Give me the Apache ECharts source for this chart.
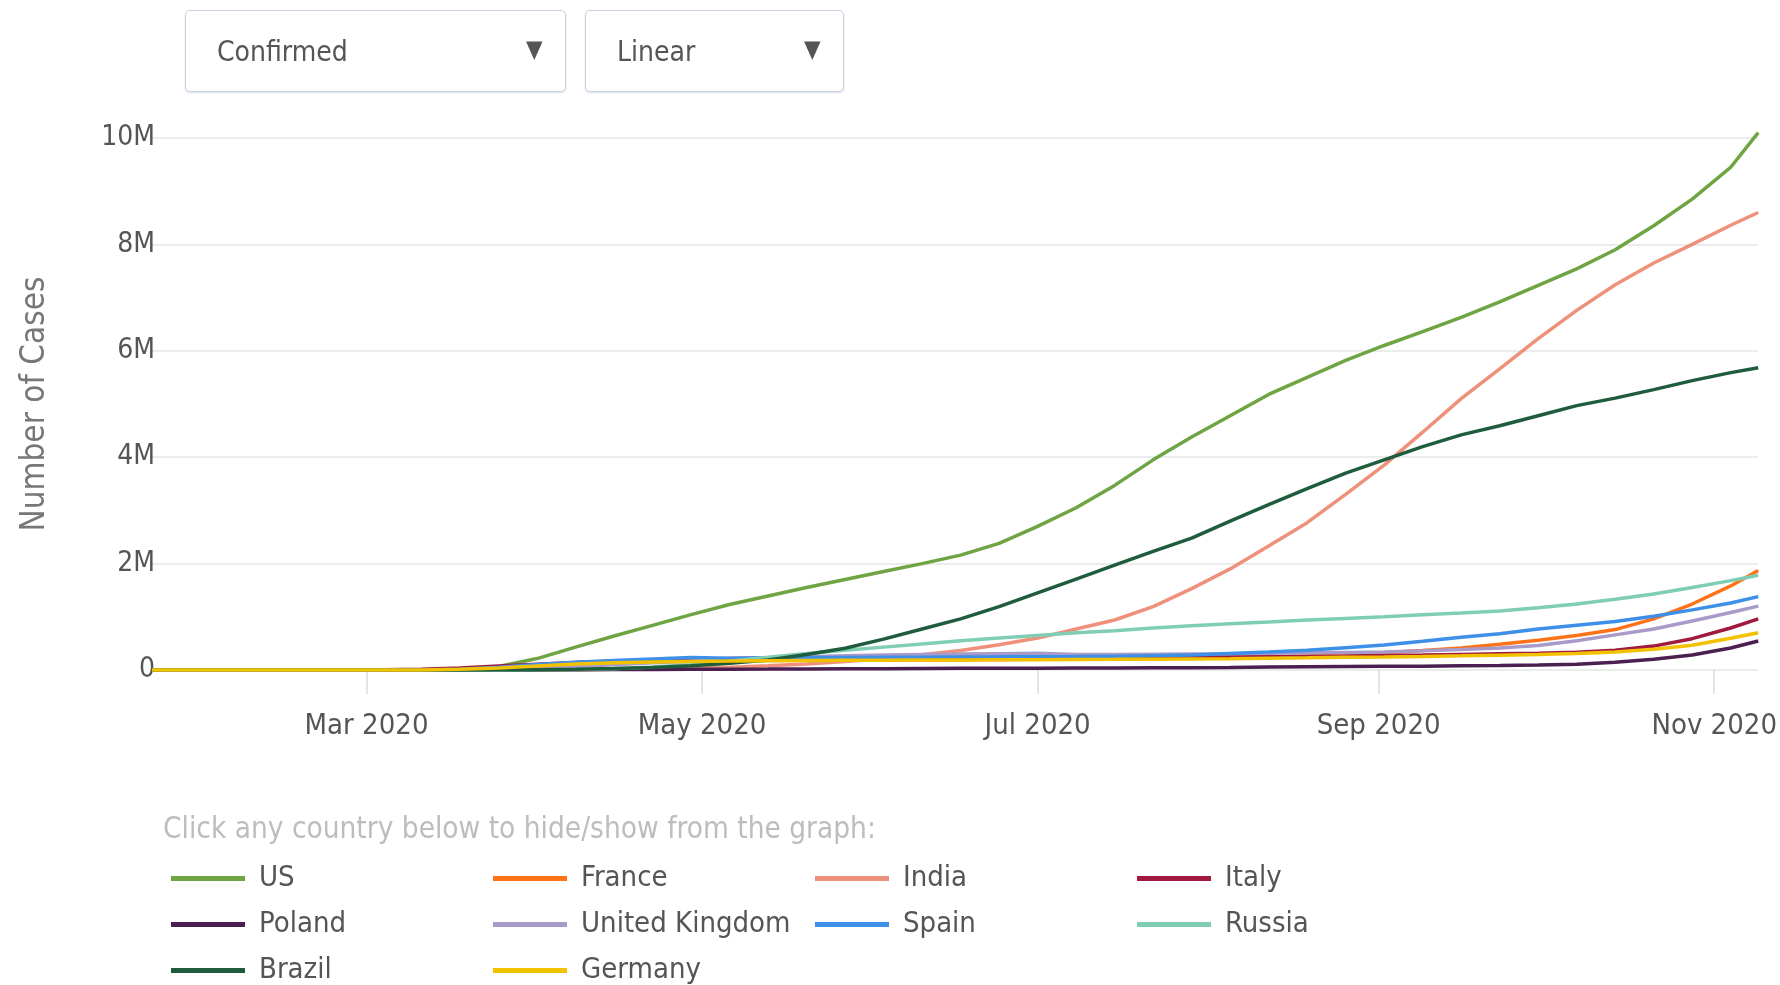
<!DOCTYPE html>
<html>
<head>
<meta charset="utf-8">
<script src="https://cdn.jsdelivr.net/npm/echarts@6/dist/echarts.min.js"></script>
<style>
  html, body { margin: 0; padding: 0; background: #fff; }
  #chart { position: absolute; left: 0; top: 0; width: 1780px; height: 985px; }
  .dd { position: absolute; top: 10px; height: 82px; box-sizing: border-box;
        border: 1.5px solid #c9d1e6; border-radius: 5px; background: #fff;
        box-shadow: 0 1px 2px rgba(150,160,190,0.35);
        font-family: 'DejaVu Sans Condensed','Liberation Sans Narrow','Roboto Condensed',Roboto,sans-serif;
        font-size: 28px; color: #555; }
  .dd .t { position: absolute; top: 50%; transform: translateY(-50%); }
  .dd .a { position: absolute; top: 50%; transform: translateY(-58%); font-size: 24px; color: #555; }
</style>
</head>
<body>
<div id="chart"></div>
<div class="dd" style="left:185px;width:381px;"><span class="t" style="left:31px;">Confirmed</span><span class="a" style="left:340px;">▼</span></div>
<div class="dd" style="left:585px;width:259px;"><span class="t" style="left:31px;">Linear</span><span class="a" style="left:218px;">▼</span></div>
<script>
// ---- data (confirmed cases, millions) ----
const dates = ['2020-01-22','2020-01-29','2020-02-05','2020-02-12','2020-02-19','2020-02-26','2020-03-04','2020-03-11','2020-03-18','2020-03-25','2020-04-01','2020-04-08','2020-04-15','2020-04-22','2020-04-29','2020-05-06','2020-05-13','2020-05-20','2020-05-27','2020-06-03','2020-06-10','2020-06-17','2020-06-24','2020-07-01','2020-07-08','2020-07-15','2020-07-22','2020-07-29','2020-08-05','2020-08-12','2020-08-19','2020-08-26','2020-09-02','2020-09-09','2020-09-16','2020-09-23','2020-09-30','2020-10-07','2020-10-14','2020-10-21','2020-10-28','2020-11-04','2020-11-09'];

const countries = ['US','France','India','Italy','Poland','United Kingdom','Spain','Russia','Brazil','Germany'];

const US      = [0,0,0,0,0,0,0.0002,0.001,0.008,0.065,0.215,0.43,0.64,0.84,1.04,1.23,1.39,1.55,1.70,1.85,2.00,2.16,2.38,2.70,3.05,3.47,3.95,4.38,4.78,5.18,5.50,5.82,6.10,6.36,6.63,6.92,7.23,7.54,7.90,8.35,8.85,9.45,10.10];
const France  = [0,0,0,0,0,0,0.0003,0.0023,0.0095,0.025,0.057,0.113,0.134,0.159,0.166,0.174,0.178,0.181,0.183,0.189,0.192,0.195,0.198,0.203,0.207,0.212,0.217,0.225,0.232,0.245,0.263,0.292,0.323,0.366,0.415,0.482,0.56,0.65,0.76,0.96,1.24,1.58,1.87];
const India   = [0,0,0,0,0,0,0,0,0.0002,0.0006,0.002,0.0057,0.012,0.021,0.033,0.052,0.078,0.112,0.158,0.216,0.286,0.367,0.473,0.60,0.77,0.94,1.19,1.53,1.90,2.33,2.77,3.30,3.85,4.47,5.10,5.66,6.23,6.76,7.24,7.65,8.00,8.36,8.60];
const Italy   = [0,0,0,0,0,0.0005,0.0031,0.0122,0.0359,0.0746,0.110,0.139,0.166,0.187,0.204,0.215,0.222,0.228,0.231,0.234,0.236,0.238,0.239,0.241,0.242,0.244,0.245,0.247,0.249,0.252,0.256,0.263,0.272,0.282,0.293,0.304,0.315,0.333,0.372,0.449,0.589,0.79,0.96];
const Poland  = [0,0,0,0,0,0,0,0,0.0003,0.0011,0.0025,0.0055,0.0077,0.0102,0.0123,0.0147,0.0171,0.0199,0.0224,0.0246,0.0281,0.0309,0.0327,0.0346,0.0364,0.0385,0.0413,0.0446,0.0489,0.0542,0.0598,0.0649,0.0691,0.0725,0.0783,0.0845,0.0934,0.110,0.145,0.203,0.281,0.414,0.546];
const UK      = [0,0,0,0,0,0,0,0.0005,0.0027,0.0095,0.030,0.062,0.100,0.135,0.166,0.203,0.230,0.250,0.268,0.280,0.291,0.300,0.307,0.313,0.290,0.293,0.297,0.302,0.307,0.314,0.322,0.331,0.340,0.360,0.385,0.415,0.460,0.550,0.660,0.770,0.920,1.080,1.200];
const Spain   = [0,0,0,0,0,0,0.0002,0.0023,0.0139,0.0496,0.104,0.148,0.180,0.209,0.236,0.221,0.229,0.233,0.237,0.240,0.242,0.245,0.247,0.250,0.253,0.258,0.270,0.283,0.310,0.337,0.370,0.420,0.470,0.540,0.615,0.680,0.770,0.840,0.910,1.010,1.130,1.260,1.380];
const Russia  = [0,0,0,0,0,0,0,0,0.0001,0.0007,0.003,0.0108,0.025,0.058,0.100,0.166,0.242,0.308,0.370,0.430,0.490,0.550,0.600,0.650,0.700,0.740,0.790,0.830,0.870,0.900,0.940,0.970,1.000,1.040,1.070,1.110,1.170,1.240,1.330,1.430,1.550,1.680,1.780];
const Brazil  = [0,0,0,0,0,0,0,0,0.0003,0.0024,0.0068,0.016,0.028,0.046,0.079,0.126,0.190,0.290,0.410,0.580,0.770,0.960,1.190,1.450,1.710,1.970,2.230,2.480,2.800,3.110,3.410,3.700,3.950,4.200,4.420,4.590,4.780,4.970,5.110,5.270,5.440,5.590,5.680];
const Germany = [0,0,0,0,0,0,0.0003,0.0019,0.0122,0.0372,0.077,0.113,0.134,0.150,0.161,0.167,0.174,0.178,0.181,0.184,0.186,0.189,0.193,0.195,0.198,0.200,0.204,0.209,0.213,0.220,0.228,0.238,0.246,0.255,0.266,0.278,0.290,0.308,0.340,0.392,0.465,0.596,0.700];

const values = [US, France, India, Italy, Poland, UK, Spain, Russia, Brazil, Germany];
const colors = ['#6fa443','#ff7318','#ef907a','#a11a3d','#4b2050','#a99bc9','#3d8fe8','#80cdb6','#1f5c3d','#f2c200'];

const yTicks = [0, 2, 4, 6, 8, 10];
const xTickDates = ['2020-03-01','2020-05-01','2020-07-01','2020-09-01','2020-11-01'];
const monthNames = ['Jan','Feb','Mar','Apr','May','Jun','Jul','Aug','Sep','Oct','Nov','Dec'];
const xRange = ['2020-01-22','2020-11-09'];

const FONT = "'DejaVu Sans Condensed','Liberation Sans Narrow','Roboto Condensed',Roboto,sans-serif";
const ts = d => Date.parse(d + 'T00:00:00Z');

const chart = echarts.init(document.getElementById('chart'), null, { renderer: 'canvas' });
const xTickVals = xTickDates.map(ts);

chart.setOption({
  animation: false,
  backgroundColor: '#fff',
  textStyle: { fontFamily: FONT },
  grid: { left: 152, right: 21, top: 138, bottom: 315, containLabel: false },
  xAxis: {
    type: 'value',
    min: ts(xRange[0]),
    max: ts(xRange[1]),
    offset: 8,
    axisLine: { show: false },
    splitLine: { show: false },
    axisTick: { show: true, customValues: xTickVals, length: 24, lineStyle: { color: '#dcdcdc', width: 1.5 } },
    axisLabel: {
      customValues: xTickVals,
      margin: 34,
      color: '#555', fontSize: 29, fontFamily: FONT,
      formatter: v => { const d = new Date(v); return monthNames[d.getUTCMonth()] + ' ' + d.getUTCFullYear(); }
    }
  },
  yAxis: {
    type: 'value', min: 0, max: 10, interval: 2,
    name: 'Number of Cases', nameLocation: 'middle', nameGap: 100,
    nameTextStyle: { color: '#777', fontSize: 33, fontFamily: FONT },
    axisLine: { show: false }, axisTick: { show: false },
    splitLine: { lineStyle: { color: '#ececec', width: 2 } },
    axisLabel: { color: '#555', fontSize: 28, fontFamily: FONT, margin: -3,
      formatter: v => v === 0 ? '0' : v + 'M' }
  },
  legend: {
    left: 171, top: 864, width: 1290, padding: 0,
    itemWidth: 74, itemHeight: 5, itemGap: 17, icon: 'rect',
    data: countries,
    textStyle: { color: '#555', fontSize: 29, fontFamily: FONT, width: 217, lineHeight: 20, padding: [0,0,0,9] }
  },
  graphic: [{
    type: 'text', left: 163, top: 815,
    style: { text: 'Click any country below to hide/show from the graph:', fill: '#bdbdbd', font: '29.5px ' + FONT }
  }],
  series: countries.map((name, i) => ({
    name, type: 'line', showSymbol: false, clip: false,
    color: colors[i],
    lineStyle: { width: 3.5, color: colors[i] },
    data: dates.map((d, j) => [ts(d), values[i][j]])
  }))
});
</script>
</body>
</html>
